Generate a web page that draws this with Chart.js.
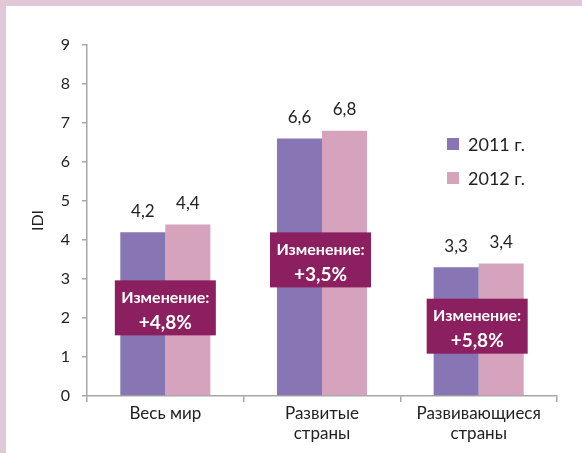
<!DOCTYPE html>
<html><head><meta charset="utf-8">
<script src="https://cdn.jsdelivr.net/npm/chart.js@4"></script>
<style>
html,body{margin:0;padding:0;background:#fff;}
#wrap{position:absolute;left:0;top:0;width:582px;height:453px;overflow:hidden;}
#frameTop{position:absolute;left:0;top:0;width:582px;height:6px;background:#e2c7d7;}
#frameLeft{position:absolute;left:0;top:0;width:6px;height:453px;background:#e2c7d7;}
canvas{position:absolute;left:0;top:0;}
</style></head><body>
<div id="wrap"><canvas id="c" width="582" height="453"></canvas><div id="frameTop"></div><div id="frameLeft"></div></div>
<script>
const categories = [['Весь мир'], ['Развитые', 'страны'], ['Развивающиеся', 'страны']];
const seriesNames = ['2011 г.', '2012 г.'];
const values2011 = [4.2, 6.6, 3.3];
const values2012 = [4.4, 6.8, 3.4];
const changeTitle = 'Изменение:';
const changeLabels = ['+4,8%', '+3,5%', '+5,8%'];
const yAxisTitle = 'IDI';

const FONT = 'Lato, "Open Sans", sans-serif';
const colors = ['#8775b4', '#d5a3bb'];
// placement of the change boxes (value level of box centre, horizontal offset px)
const boxPlacement = [{y: 2.26, dx: 0}, {y: 3.49, dx: -1.5}, {y: 1.79, dx: -1.5}];

function fmt(v){ return v.toFixed(1).replace('.', ','); }

const overlay = {
  id: 'overlay',
  afterDatasetsDraw(chart){
    const ctx = chart.ctx;
    ctx.save();
    // data labels
    ctx.fillStyle = '#222';
    ctx.font = '17px ' + FONT;
    ctx.textAlign = 'center';
    ctx.textBaseline = 'middle';
    chart.data.datasets.forEach((ds, di) => {
      const meta = chart.getDatasetMeta(di);
      meta.data.forEach((bar, i) => {
        ctx.fillText(fmt(ds.data[i]), bar.x, bar.y - 21);
      });
    });
    // change boxes
    const xs = chart.scales.x, ys = chart.scales.y;
    changeLabels.forEach((txt, i) => {
      const cx = xs.getPixelForValue(i) + boxPlacement[i].dx;
      const cy = ys.getPixelForValue(boxPlacement[i].y);
      const w = 101, h = 55;
      ctx.fillStyle = '#8b1f5f';
      ctx.fillRect(cx - w/2, cy - h/2, w, h);
      ctx.fillStyle = '#fff';
      ctx.font = 'bold 16px ' + FONT;
      ctx.fillText(changeTitle, cx, cy - 10);
      ctx.font = 'bold 19px ' + FONT;
      ctx.fillText(txt, cx, cy + 15);
    });
    // legend
    ctx.textAlign = 'left';
    ctx.font = '18px ' + FONT;
    seriesNames.forEach((n, i) => {
      const y = 144 + i * 34;
      ctx.fillStyle = colors[i];
      ctx.fillRect(447, y - 6, 12, 12);
      ctx.fillStyle = '#222';
      ctx.fillText(n, 468, y + 1);
    });
    ctx.restore();
  }
};

const axisGray = '#a6a6a6';
new Chart(document.getElementById('c'), {
  type: 'bar',
  data: {
    labels: categories,
    datasets: [
      {label: seriesNames[0], data: values2011, backgroundColor: colors[0], borderWidth: 0, barPercentage: 1, categoryPercentage: 0.575},
      {label: seriesNames[1], data: values2012, backgroundColor: colors[1], borderWidth: 0, barPercentage: 1, categoryPercentage: 0.575}
    ]
  },
  options: {
    responsive: false, animation: false, devicePixelRatio: 1,
    layout: {padding: {left: 28, top: 45, right: 25, bottom: 0}},
    plugins: {legend: {display: false}, tooltip: {enabled: false}},
    scales: {
      x: {
        grid: {display: true, drawOnChartArea: false, drawTicks: true, tickLength: 6, color: axisGray, lineWidth: 1.5},
        border: {color: axisGray, width: 1.5},
        ticks: {color: '#222', font: {family: FONT, size: 17}, padding: 1, maxRotation: 0},
        afterFit(a){ a.height = 57; }
      },
      y: {
        min: 0, max: 9,
        ticks: {stepSize: 1, color: '#222', font: {family: FONT, size: 16}, padding: 12},
        grid: {drawOnChartArea: false, drawTicks: true, tickLength: 5, color: axisGray, lineWidth: 1.5},
        border: {color: axisGray, width: 1.5},
        title: {display: true, text: yAxisTitle, color: '#222', font: {family: FONT, size: 16}, padding: 0},
        afterFit(a){ a.width = 59; }
      }
    }
  },
  plugins: [overlay]
});
</script>
</body></html>
